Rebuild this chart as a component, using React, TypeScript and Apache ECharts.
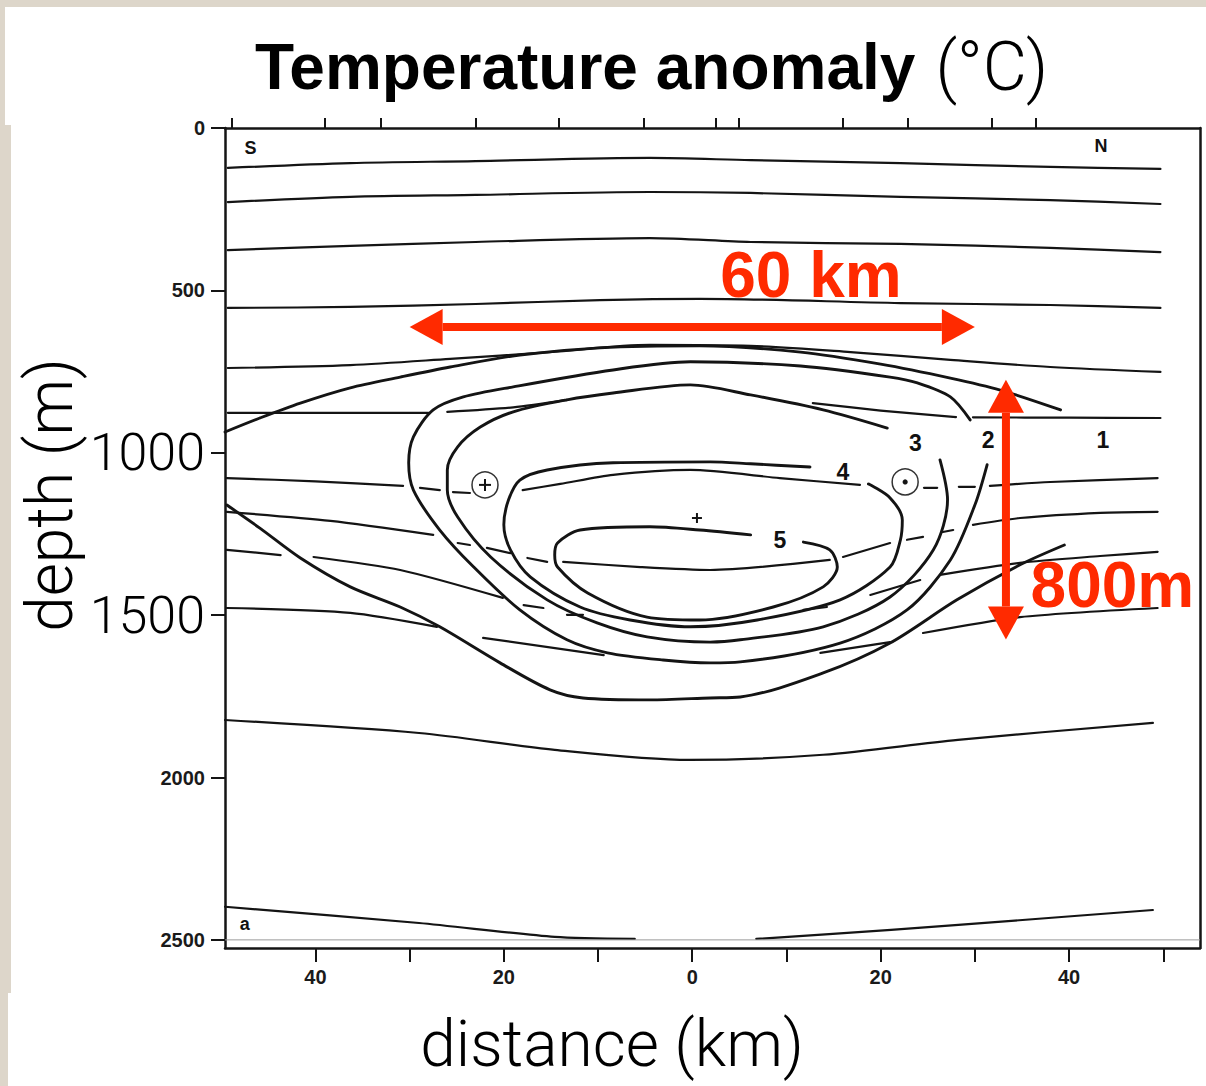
import React, { useEffect, useRef } from "react";
import * as echarts from "echarts";

type Pt = [number, number];

// ---- axis definitions (distance in km, depth in m) ----
const distanceMin = -49.6;
const distanceMax = 53.9;
const depthMax = 2525;
const distanceTicks = [-40, -30, -20, -10, 0, 10, 20, 30, 40, 50];
const distanceLabels = [-40, -20, 0, 20, 40];
const depthTicks = [0, 500, 1000, 1500, 2000, 2500];
const stationKm = [-48.9, -39.0, -33.1, -23.0, -14.2, -5.2, 2.5, 4.9, 16.0, 22.9, 31.8, 36.5];

// ---- background isotherms ----
const iso1: Pt[] = [[-49.3, 123], [-36.3, 108], [-23.0, 102], [-4.5, 92], [6.2, 99], [22.1, 108], [38.0, 120], [49.7, 126]];
const iso2: Pt[] = [[-49.3, 228], [-36.3, 212], [-23.0, 206], [-4.5, 197], [6.2, 200], [22.1, 212], [38.0, 222], [49.7, 234]];
const iso3: Pt[] = [[-49.3, 376], [-36.3, 363], [-23.0, 351], [-4.5, 339], [6.2, 351], [22.1, 357], [38.0, 369], [49.7, 382]];
const iso4: Pt[] = [[-49.3, 554], [-36.3, 551], [-23.0, 542], [-9.8, 530], [0.8, 526], [22.1, 539], [38.0, 545], [49.7, 554]];
const iso5: Pt[] = [[-49.3, 739], [-36.3, 730], [-25.7, 711], [-15.1, 690], [-4.5, 668], [6.2, 671], [16.8, 690], [27.4, 714], [38.0, 736], [49.7, 751]];
const iso6: Pt[][] = [
  [[-49.3, 877], [-28.0, 877]],
  [[-26.0, 874], [-19.0, 860], [-13.3, 837]],
  [[12.8, 847], [20.0, 870], [28.0, 890]],
  [[29.8, 891], [40.0, 892], [49.7, 893]],
];
const iso7: Pt[][] = [
  [[-49.4, 1078], [-40.0, 1088], [-30.7, 1102]],
  [[-28.9, 1108], [-26.8, 1115]],
  [[-25.4, 1121], [-23.6, 1124]],
  [[-18.0, 1115], [-14.0, 1096], [-8.4, 1068], [-0.2, 1053], [9.3, 1078], [17.8, 1099]],
  [[24.6, 1108], [26.0, 1108]],
  [[28.3, 1105], [30.0, 1105]],
  [[31.6, 1102], [38.0, 1090], [49.4, 1078]],
];
const iso8: Pt[][] = [
  [[-49.4, 1182], [-38.4, 1210], [-27.5, 1253]],
  [[-24.9, 1278], [-23.6, 1284]],
  [[-21.8, 1293], [-19.3, 1309]],
  [[-17.5, 1324], [-15.4, 1336]],
  [[-13.7, 1336], [-5.5, 1352], [1.9, 1361], [14.6, 1330]],
  [[16.0, 1321], [21.0, 1278]],
  [[22.8, 1268], [24.5, 1259]],
  [[26.6, 1244], [27.7, 1238]],
  [[29.8, 1222], [34.8, 1201], [43.3, 1185], [49.4, 1182]],
];
const iso9: Pt[][] = [
  [[-49.4, 1299], [-43.7, 1315]],
  [[-40.2, 1321], [-31.0, 1361], [-20.1, 1447]],
  [[-17.9, 1469], [-15.8, 1478]],
  [[-13.3, 1499], [-11.6, 1499]],
  [[11.8, 1484], [14.3, 1475]],
  [[18.9, 1438], [24.2, 1392]],
  [[26.3, 1376], [34.8, 1339], [43.3, 1318], [49.4, 1305]],
];
const iso10: Pt[][] = [
  [[-49.4, 1478], [-36.3, 1493], [-27.1, 1536]],
  [[-22.2, 1570], [-9.4, 1623]],
  [[13.6, 1616], [21.0, 1583]],
  [[24.5, 1555], [34.8, 1506], [49.4, 1478]],
];
const iso11: Pt[] = [[-49.6, 1823], [-29.0, 1863], [-14.6, 1915], [-0.3, 1946], [13.9, 1930], [28.2, 1884], [48.9, 1832]];
const iso12: Pt[][] = [
  [[-49.6, 2398], [-29.0, 2448], [-14.6, 2491], [-6.1, 2497]],
  [[6.8, 2497], [21.1, 2469], [35.4, 2438], [48.9, 2408]],
];
const bottomLine: Pt[] = [[distanceMin, 2500], [distanceMax, 2500]];

// ---- anomaly contours (1 to 5 °C) ----
const anomaly1Upper: Pt[] = [[-49.6, 936], [-45.9, 893], [-41.6, 847], [-36.3, 800], [-31.0, 767], [-25.7, 736], [-18.3, 699], [-9.8, 677], [0.8, 671], [11.5, 690], [20.0, 727], [27.4, 770], [32.7, 807], [39.1, 868]];
const anomaly1Lower: Pt[] = [[-49.4, 1161], [-45.9, 1232], [-41.6, 1324], [-36.3, 1413], [-31.0, 1475], [-26.8, 1536], [-20.4, 1647], [-15.1, 1730], [-11.6, 1755], [-4.5, 1761], [1.9, 1755], [5.1, 1752], [13.9, 1678], [21.0, 1586], [28.1, 1453], [34.8, 1345], [39.5, 1284]];
const anomaly2: Pt[] = [[29.5, 899], [27.4, 828], [23.9, 785], [21.0, 767], [11.5, 733], [-0.2, 720], [-8.4, 745], [-19.0, 797], [-24.3, 828], [-27.5, 868], [-29.6, 951], [-30.1, 1031], [-29.6, 1115], [-26.8, 1238], [-23.2, 1352], [-18.3, 1484], [-13.3, 1576], [-9.0, 1616], [-3.1, 1638], [1.9, 1647], [5.1, 1644], [15.7, 1586], [22.8, 1484], [27.4, 1330], [30.0, 1161], [31.3, 1037]];
const anomaly3: Pt[] = [[20.7, 924], [13.9, 868], [6.2, 822], [-0.2, 791], [-8.4, 816], [-13.3, 837], [-19.0, 874], [-22.5, 921], [-24.9, 982], [-26.0, 1053], [-26.0, 1115], [-24.9, 1198], [-21.4, 1321], [-15.4, 1453], [-10.1, 1524], [-4.8, 1567], [1.9, 1583], [5.1, 1576], [13.9, 1536], [21.0, 1444], [25.6, 1299], [27.1, 1145], [26.3, 1022]];
const anomaly4: Pt[] = [[12.5, 1044], [6.2, 1034], [1.9, 1028], [-8.4, 1031], [-15.4, 1053], [-18.3, 1084], [-19.5, 1145], [-20.0, 1222], [-19.3, 1299], [-17.2, 1382], [-11.9, 1475], [-6.6, 1515], [-0.2, 1536], [6.9, 1515], [15.7, 1453], [21.0, 1352], [22.1, 1268], [22.3, 1207], [21.0, 1139], [18.7, 1096]];
const anomaly5: Pt[] = [[6.2, 1253], [0.8, 1238], [-4.5, 1228], [-11.9, 1238], [-14.3, 1278], [-14.6, 1315], [-14.3, 1352], [-11.1, 1432], [-4.8, 1506], [0.8, 1515], [8.6, 1475], [13.9, 1413], [15.4, 1352], [14.6, 1299], [11.8, 1275]];

// ---- labels and symbols inside the section ----
const cornerLabels = ["S", "N", "a"];
const cornerLabelPos: Pt[] = [[-46.9, 62], [43.4, 55], [-47.5, 2451]];
const contourLabels = ["1", "2", "3", "4", "5"];
const contourLabelPos: Pt[] = [[43.6, 961], [31.4, 961], [23.7, 970], [16.0, 1059], [9.3, 1268]];
const plusStations: Pt[] = [[-22.0, 1099]];
const dotStations: Pt[] = [[22.6, 1090]];
const centreCross: Pt[] = [[0.5, 1201]];

// ---- scale arrows: [x1, y1, x2, y2] ----
const widthArrow = [-30, 613, 30, 613];
const heightArrow = [33.3, 775, 33.3, 1575];
const widthText = "60 km";
const widthTextPos: Pt = [12.6, 453];
const heightText = "800m";
const heightTextPos: Pt = [44.6, 1407];

const RED = "#ff2a00";
const INK = "#141414";
const SANS = "'Liberation Sans', Arial, Helvetica, sans-serif";
const LIGHT = "Roboto, 'Liberation Sans', sans-serif";

function lineSeries(pts: Pt[], width: number, smooth = 0.3) {
  return {
    type: "line",
    data: pts,
    showSymbol: false,
    symbol: "none",
    smooth,
    silent: true,
    z: 3,
    lineStyle: { color: INK, width, cap: "round", join: "round" },
  };
}

function labelSeries(names: string[], pos: Pt[], fontSize: number, color: string, z = 4) {
  return {
    type: "scatter",
    symbolSize: 0,
    silent: true,
    z,
    itemStyle: { opacity: 1 },
    data: names.map((n, i) => ({ name: n, value: pos[i] })),
    label: {
      show: true,
      position: "inside",
      formatter: "{b}",
      fontSize,
      fontWeight: "bold",
      fontFamily: SANS,
      color,
      opacity: 1,
      textBorderWidth: 0,
    },
  };
}

export default function App() {
  const ref = useRef<HTMLDivElement>(null);

  useEffect(() => {
    if (!ref.current) return;
    const chart = echarts.init(ref.current, undefined, { renderer: "svg" });

    const isoSingles = [iso1, iso2, iso3, iso4, iso5, iso11];
    const isoSegments = [...iso6, ...iso7, ...iso8, ...iso9, ...iso10, ...iso12];
    const contours = [anomaly1Upper, anomaly1Lower, anomaly2, anomaly3, anomaly4, anomaly5];

    const series: any[] = [];
    isoSingles.forEach((p) => series.push(lineSeries(p, 2.2)));
    isoSegments.forEach((p) => series.push(lineSeries(p, 2.2, 0.25)));
    contours.forEach((p) => series.push(lineSeries(p, 2.9, 0.3)));
    series.push({
      ...lineSeries(bottomLine, 1, 0),
      lineStyle: { color: "#9a9a9a", width: 1 },
    });

    series.push(labelSeries(cornerLabels, cornerLabelPos, 18, "#111"));
    series.push(labelSeries(contourLabels, contourLabelPos, 23, "#111"));

    // station symbols: circled plus / circled dot / plain cross
    const stationData = [
      ...plusStations.map((p) => [p[0], p[1], 1]),
      ...dotStations.map((p) => [p[0], p[1], 0]),
      ...centreCross.map((p) => [p[0], p[1], 2]),
    ];
    series.push({
      type: "custom",
      silent: true,
      z: 4,
      data: stationData,
      encode: { x: 0, y: 1 },
      renderItem: (_params: any, api: any) => {
        const c = api.coord([api.value(0), api.value(1)]);
        const kind = api.value(2);
        const children: any[] = [];
        if (kind !== 2) {
          children.push({
            type: "circle",
            shape: { cx: c[0], cy: c[1], r: 13 },
            style: { fill: "#fff", stroke: "#333", lineWidth: 1.5 },
          });
        }
        if (kind === 0) {
          children.push({
            type: "circle",
            shape: { cx: c[0], cy: c[1], r: 2.6 },
            style: { fill: INK },
          });
        } else {
          const h = kind === 1 ? 6 : 5;
          children.push({
            type: "line",
            shape: { x1: c[0] - h, y1: c[1], x2: c[0] + h, y2: c[1] },
            style: { stroke: INK, lineWidth: 2 },
          });
          children.push({
            type: "line",
            shape: { x1: c[0], y1: c[1] - h, x2: c[0], y2: c[1] + h },
            style: { stroke: INK, lineWidth: 2 },
          });
        }
        return { type: "group", children };
      },
    });

    // red double-headed scale arrows
    series.push({
      type: "custom",
      silent: true,
      z: 10,
      data: [widthArrow, heightArrow],
      encode: { x: [0, 2], y: [1, 3] },
      renderItem: (_params: any, api: any) => {
        const a = api.coord([api.value(0), api.value(1)]);
        const b = api.coord([api.value(2), api.value(3)]);
        const dx = b[0] - a[0];
        const dy = b[1] - a[1];
        const len = Math.hypot(dx, dy);
        const ux = dx / len;
        const uy = dy / len;
        const nx = -uy;
        const ny = ux;
        const head = 33;
        const half = 18;
        const shaft = 4;
        const pa = [a[0] + ux * head, a[1] + uy * head];
        const pb = [b[0] - ux * head, b[1] - uy * head];
        return {
          type: "group",
          children: [
            {
              type: "polygon",
              shape: {
                points: [
                  [pa[0] + nx * shaft, pa[1] + ny * shaft],
                  [pb[0] + nx * shaft, pb[1] + ny * shaft],
                  [pb[0] - nx * shaft, pb[1] - ny * shaft],
                  [pa[0] - nx * shaft, pa[1] - ny * shaft],
                ],
              },
              style: { fill: RED },
            },
            {
              type: "polygon",
              shape: { points: [a, [pa[0] + nx * half, pa[1] + ny * half], [pa[0] - nx * half, pa[1] - ny * half]] },
              style: { fill: RED },
            },
            {
              type: "polygon",
              shape: { points: [b, [pb[0] + nx * half, pb[1] + ny * half], [pb[0] - nx * half, pb[1] - ny * half]] },
              style: { fill: RED },
            },
          ],
        };
      },
    });

    series.push(labelSeries([widthText, heightText], [widthTextPos, heightTextPos], 64, RED, 11));

    const frameLine = { show: true, onZero: false, lineStyle: { color: INK, width: 2.5 } };

    chart.setOption({
      animation: false,
      grid: { left: 225, right: 6, top: 128, bottom: 138, containLabel: false },
      xAxis: [
        {
          type: "value",
          position: "bottom",
          min: distanceMin,
          max: distanceMax,
          axisLine: frameLine,
          splitLine: { show: false },
          axisTick: { show: true, length: 14, customValues: distanceTicks, lineStyle: { color: INK, width: 2 } },
          axisLabel: {
            customValues: distanceLabels,
            formatter: (v: number) => String(Math.abs(v)),
            margin: 19,
            fontSize: 20,
            fontWeight: "bold",
            fontFamily: SANS,
            color: "#1a1a1a",
          },
        },
        {
          type: "value",
          position: "top",
          min: distanceMin,
          max: distanceMax,
          axisLine: frameLine,
          splitLine: { show: false },
          axisTick: { show: true, length: 10, customValues: stationKm, lineStyle: { color: INK, width: 2 } },
          axisLabel: { show: false },
        },
      ],
      yAxis: [
        {
          type: "value",
          inverse: true,
          position: "left",
          min: 0,
          max: depthMax,
          axisLine: frameLine,
          splitLine: { show: false },
          axisTick: { show: true, length: 14, customValues: depthTicks, lineStyle: { color: INK, width: 2 } },
          axisLabel: {
            customValues: depthTicks,
            margin: 20,
            formatter: (v: number) => (v === 1000 || v === 1500 ? `{big|${v}}` : `{small|${v}}`),
            rich: {
              big: { fontSize: 52, fontFamily: LIGHT, fontWeight: 300, color: "#000" },
              small: { fontSize: 20, fontWeight: "bold", fontFamily: SANS, color: "#1a1a1a" },
            },
          },
        },
        {
          type: "value",
          inverse: true,
          position: "right",
          min: 0,
          max: depthMax,
          axisLine: frameLine,
          splitLine: { show: false },
          axisTick: { show: false },
          axisLabel: { show: false },
        },
      ],
      graphic: [
        {
          type: "text",
          x: 255,
          y: 67,
          style: {
            text: "{b|Temperature anomaly}{n|(°C)}",
            verticalAlign: "middle",
            rich: {
              b: { fontSize: 64, fontWeight: "bold", fontFamily: SANS, fill: "#000" },
              n: { fontSize: 68, fontWeight: 300, fontFamily: LIGHT, fill: "#000", padding: [0, 0, 0, 20] },
            },
          },
        },
        {
          type: "text",
          x: 50,
          y: 495,
          rotation: Math.PI / 2,
          style: {
            text: "depth (m)",
            align: "center",
            verticalAlign: "middle",
            fontSize: 64,
            fontWeight: 300,
            fontFamily: LIGHT,
            fill: "#000",
          },
        },
        {
          type: "text",
          x: 612,
          y: 1044,
          style: {
            text: "distance (km)",
            align: "center",
            verticalAlign: "middle",
            fontSize: 64,
            fontWeight: 300,
            fontFamily: LIGHT,
            fill: "#000",
          },
        },
      ],
      series,
    });

    return () => chart.dispose();
  }, []);

  const beige = "#ddd6ca";
  return (
    <div style={{ position: "absolute", left: 0, top: 0, width: 1206, height: 1086, background: beige, overflow: "hidden" }}>
      <div style={{ position: "absolute", left: 5, top: 7, right: 0, bottom: 0, background: "#fff" }} />
      <div style={{ position: "absolute", left: 5, top: 125, width: 6, height: 868, background: beige }} />
      <div style={{ position: "absolute", left: 5, top: 993, width: 3, height: 93, background: beige }} />
      <div ref={ref} style={{ position: "absolute", left: 0, top: 0, width: 1206, height: 1086 }} />
    </div>
  );
}
